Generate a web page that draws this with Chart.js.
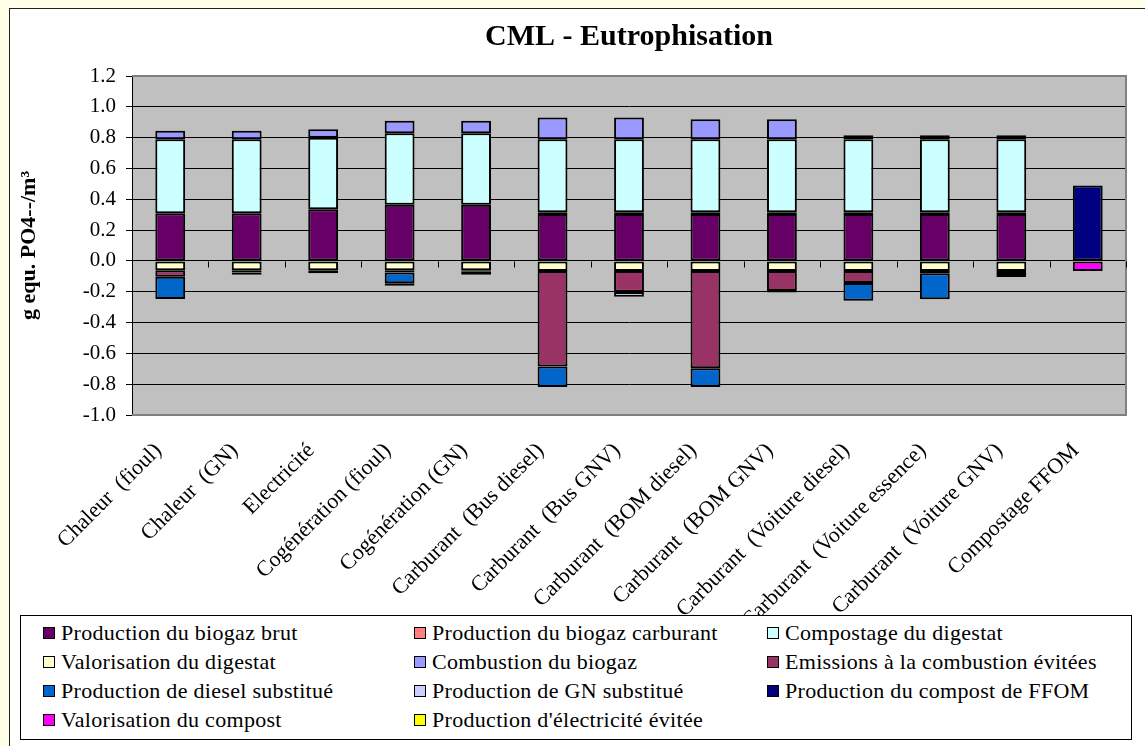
<!DOCTYPE html>
<html>
<head>
<meta charset="utf-8">
<title>CML - Eutrophisation</title>
<script src="https://cdn.jsdelivr.net/npm/chart.js@4.4.1/dist/chart.umd.min.js"></script>
<style>
  html, body { margin: 0; padding: 0; overflow: hidden; background: #FFFFE8; }
  #frame {
    position: absolute; left: 9px; top: 8px; width: 1200px; height: 800px;
    background: #fff; border: 1.5px solid #222; box-sizing: border-box;
  }
  #wrap { position: absolute; left: 0; top: 0; width: 1145px; height: 746px; }
  #legend {
    position: absolute; left: 20px; top: 615px; width: 1112px; height: 125px;
    box-sizing: border-box; border: 1px solid #000; background: #fff;
    padding: 2px 0 0 22px;
    display: grid; grid-template-columns: 371px 353px auto; grid-auto-rows: 29px;
    font-family: "Liberation Serif", "Times New Roman", serif; font-size: 22px;
    letter-spacing: 0.3px; color: #000;
  }
  #legend .item { display: flex; align-items: center; white-space: nowrap; }
  #legend .box {
    width: 10px; height: 10px; border: 1px solid #000; margin-right: 6px; flex: none;
  }
</style>
</head>
<body>
<div id="frame"></div>
<div id="wrap"><canvas id="chart"></canvas></div>
<div id="legend"></div>

<script>
// Scenarios on the category axis
const categories = [
    'Chaleur  (fioul)', 'Chaleur  (GN)', 'Electricité', 'Cogénération (fioul)', 'Cogénération (GN)',
    'Carburant  (Bus diesel)', 'Carburant  (Bus GNV)', 'Carburant  (BOM diesel)', 'Carburant  (BOM GNV)',
    'Carburant  (Voiture diesel)', 'Carburant  (Voiture essence)', 'Carburant  (Voiture GNV)', 'Compostage FFOM'
];

// Contributions, g equ. PO4--/m³
const biogazBrut        = [0.31, 0.31, 0.335, 0.364, 0.364, 0.305, 0.305, 0.305, 0.305, 0.305, 0.305, 0.305, 0];
const biogazCarburant   = [0, 0, 0, 0, 0, 0.01, 0.01, 0.01, 0.01, 0.01, 0.01, 0.01, 0];
const compostageDigestat= [0.48, 0.48, 0.465, 0.465, 0.465, 0.475, 0.475, 0.475, 0.475, 0.475, 0.475, 0.475, 0];
const valorisationDigestat = [-0.06, -0.06, -0.06, -0.06, -0.06, -0.065, -0.065, -0.065, -0.065, -0.065, -0.065, -0.065, 0];
const combustionBiogaz  = [0.055, 0.055, 0.055, 0.08, 0.08, 0.14, 0.14, 0.13, 0.13, 0.026, 0.026, 0.026, 0];
const emissionsEvitees  = [-0.043, -0.015, 0, -0.015, -0.01, -0.621, -0.136, -0.632, -0.13, -0.078, -0.015, -0.026, 0];
const dieselSubstitue   = [-0.145, 0, 0, -0.07, 0, -0.132, 0, -0.121, 0, -0.115, -0.169, 0, 0];
const gnSubstitue       = [0, -0.015, 0, 0, 0, 0, -0.032, 0, -0.01, 0, 0, -0.013, 0];
const compostFFOM       = [0, 0, 0, 0, 0, 0, 0, 0, 0, 0, 0, 0, 0.49];
const valorisationCompost = [0, 0, 0, 0, 0, 0, 0, 0, 0, 0, 0, 0, -0.065];
const electriciteEvitee = [0, 0, -0.02, -0.017, -0.02, 0, 0, 0, 0, 0, 0, 0, 0];

const seriesNames = [
    'Production du biogaz brut', 'Production du biogaz carburant', 'Compostage du digestat',
    'Valorisation du digestat', 'Combustion du biogaz', 'Emissions à la combustion évitées',
    'Production de diesel substitué', 'Production de GN substitué', 'Production du compost de FFOM',
    'Valorisation du compost', "Production d'électricité évitée"
];
const seriesValues = [
    biogazBrut, biogazCarburant, compostageDigestat, valorisationDigestat, combustionBiogaz,
    emissionsEvitees, dieselSubstitue, gnSubstitue, compostFFOM, valorisationCompost, electriciteEvitee
];
const seriesColors = [
    '#660066', '#FF8080', '#CCFFFF', '#FFFFCC', '#9999FF', '#993366',
    '#0066CC', '#CCCCFF', '#000080', '#FF00FF', '#FFFF00'
];

const yTickValues = [-1.0, -0.8, -0.6, -0.4, -0.2, 0.0, 0.2, 0.4, 0.6, 0.8, 1.0, 1.2];

const serif = '"Liberation Serif", "Times New Roman", serif';

// grey plot background, frame and the small category ticks on the zero line
const plotFrame = {
    id: 'plotFrame',
    beforeDraw(chart) {
        const { ctx, chartArea: a } = chart;
        ctx.save();
        ctx.fillStyle = '#C0C0C0';
        ctx.fillRect(a.left, a.top, a.right - a.left, a.bottom - a.top);
        ctx.restore();
    },
    afterDraw(chart) {
        const { ctx, chartArea: a, scales } = chart;
        ctx.save();
        ctx.strokeStyle = '#808080';
        ctx.lineWidth = 2;
        ctx.beginPath();
        ctx.moveTo(a.left, a.top);
        ctx.lineTo(a.right, a.top);
        ctx.lineTo(a.right, a.bottom);
        ctx.lineTo(a.left, a.bottom);
        ctx.stroke();

        const x = scales.x, y0 = Math.round(scales.y.getPixelForValue(0)) + 0.5;
        const step = x.getPixelForValue(1) - x.getPixelForValue(0);
        ctx.strokeStyle = '#000';
        ctx.lineWidth = 1;
        ctx.beginPath();
        for (let i = 0; i <= categories.length; i++) {
            const bx = Math.round(x.getPixelForValue(i) - step / 2) + 0.5;
            ctx.moveTo(bx, y0);
            ctx.lineTo(bx, y0 + 6);
        }
        ctx.stroke();
        ctx.restore();
    }
};

const ctx = document.getElementById('chart').getContext('2d');
const chart = new Chart(ctx, {
    type: 'bar',
    data: {
        labels: categories,
        datasets: seriesNames.map((name, i) => ({
            label: name,
            data: seriesValues[i],
            backgroundColor: seriesColors[i],
            borderColor: '#000',
            borderWidth: 2,
            borderSkipped: false,
            barPercentage: 0.39,
            categoryPercentage: 1
        }))
    },
    options: {
        responsive: true,
        maintainAspectRatio: false,
        animation: false,
        layout: { padding: { left: 0, right: 19, top: 0, bottom: 0 } },
        plugins: {
            legend: { display: false },
            tooltip: { enabled: false },
            title: {
                display: true,
                text: 'CML - Eutrophisation',
                fullSize: false,
                color: '#000',
                font: { family: serif, size: 30, weight: 'bold' },
                padding: { top: 19, bottom: 21 }
            }
        },
        scales: {
            x: {
                stacked: true,
                grid: { display: false },
                border: { display: false },
                ticks: {
                    color: '#000',
                    font: { family: serif, size: 22 },
                    maxRotation: 45,
                    minRotation: 45,
                    autoSkip: false,
                    labelOffset: -12,
                    padding: 15
                },
                afterFit(scale) { scale.height = 331; }
            },
            y: {
                stacked: true,
                min: -1.0,
                max: 1.2,
                afterBuildTicks(axis) { axis.ticks = yTickValues.map(v => ({ value: v })); },
                grid: { color: '#000', lineWidth: 1, tickLength: 6, tickColor: '#000' },
                border: { display: true, color: '#000', width: 1 },
                ticks: {
                    color: '#000',
                    font: { family: serif, size: 21 },
                    padding: 10,
                    callback: v => v.toFixed(1)
                },
                title: {
                    display: true,
                    text: 'g equ. PO4--/m³',
                    color: '#000',
                    font: { family: serif, size: 22, weight: 'bold' },
                    padding: { top: 16 }
                },
                afterFit(scale) { scale.width = 132; }
            }
        }
    },
    plugins: [plotFrame]
});

// legend laid out in three columns like the original spreadsheet chart
const legend = document.getElementById('legend');
seriesNames.forEach((name, i) => {
    const item = document.createElement('div');
    item.className = 'item';
    const box = document.createElement('span');
    box.className = 'box';
    box.style.background = seriesColors[i];
    const label = document.createElement('span');
    label.textContent = name;
    item.appendChild(box);
    item.appendChild(label);
    legend.appendChild(item);
});
</script>
</body>
</html>
